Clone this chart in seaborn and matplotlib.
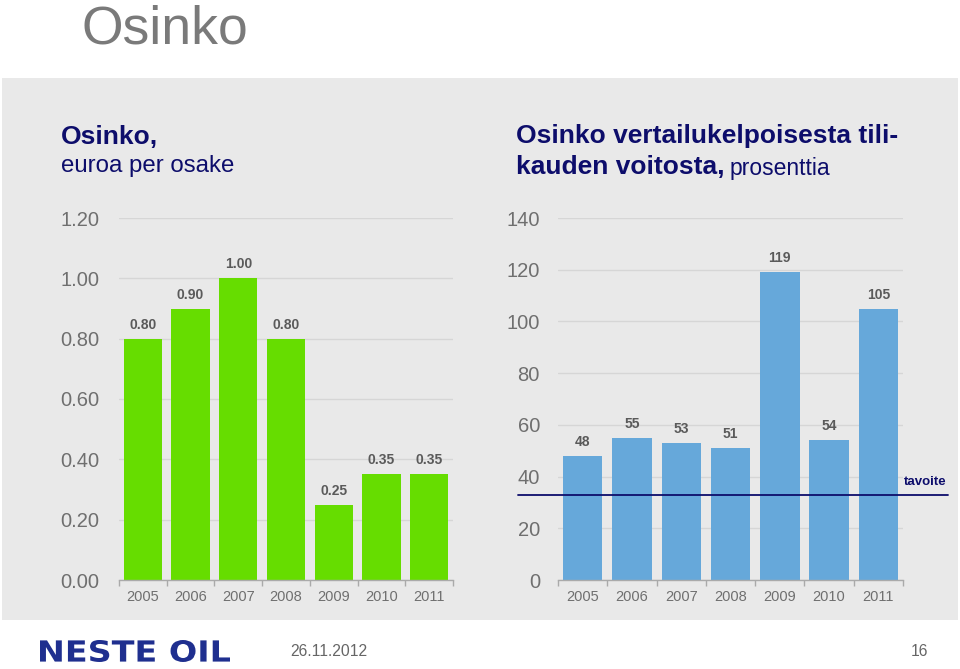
import matplotlib
matplotlib.use("Agg")
import matplotlib.pyplot as plt
import matplotlib.transforms as mtransforms
from matplotlib.patches import Rectangle, PathPatch
from matplotlib.textpath import TextPath
from matplotlib.font_manager import FontProperties
from matplotlib.ticker import FixedLocator, FormatStrFormatter
import seaborn as sns
import pandas as pd

years = ["2005", "2006", "2007", "2008", "2009", "2010", "2011"]
dividend = [0.80, 0.90, 1.00, 0.80, 0.25, 0.35, 0.35]
payout = [48, 55, 53, 51, 119, 54, 105]
target = 33
left_ticks = [0.0, 0.2, 0.4, 0.6, 0.8, 1.0, 1.2]
right_ticks = [0, 20, 40, 60, 80, 100, 120, 140]

sns.set_theme(style="white")
plt.rcParams['font.family'] = ['Liberation Sans', 'DejaVu Sans']

GREEN = "#66dd00"
BLUE = "#66a8da"
NAVY = "#0d0d6b"
GRAY = "#6f6f6f"
LBL = "#5a5a5a"
GRID = "#d6d6d6"

fig = plt.figure(figsize=(9.6, 6.69), dpi=100)
fig.patch.set_facecolor("white")
W, H = 960, 669

def fx(px): return px / W
def fy(py): return 1 - py / H

# background panel
fig.patches.append(Rectangle((fx(2), fy(620)), fx(956), (620 - 78) / H,
                             transform=fig.transFigure, facecolor="#e9e9e9",
                             edgecolor="none", zorder=-5))

fig.text(fx(82), fy(43), "Osinko", fontsize=38.5, color="#7a7a7a", va="baseline", ha="left")

df_l = pd.DataFrame({"year": years, "value": dividend})
df_r = pd.DataFrame({"year": years, "value": payout})

axL = fig.add_axes([fx(119), fy(580), fx(453 - 119), (580 - 218) / H])
axR = fig.add_axes([fx(558), fy(580), fx(903 - 558), (580 - 218) / H])

def style(ax, ticks, fmt, pad):
    ax.set_facecolor("none")
    ax.patch.set_alpha(0)
    ax.set_xlim(-0.5, 6.5)
    ax.set_ylim(ticks[0], ticks[-1])
    ax.set_yticks(ticks)
    ax.yaxis.set_major_formatter(FormatStrFormatter(fmt))
    ax.grid(axis="y", color=GRID, linewidth=1)
    ax.set_axisbelow(True)
    for s in ["top", "right", "left"]:
        ax.spines[s].set_visible(False)
    ax.spines["bottom"].set_color("#aaaaaa")
    ax.spines["bottom"].set_linewidth(1)
    ax.tick_params(axis="y", length=0, labelsize=14.5, labelcolor=GRAY, pad=pad)
    ax.tick_params(axis="x", which="major", length=0, labelsize=10.5, labelcolor=GRAY, pad=7)
    ax.xaxis.set_minor_locator(FixedLocator([i - 0.5 for i in range(8)]))
    ax.tick_params(axis="x", which="minor", bottom=True, length=4, color="#aaaaaa", width=1)
    ax.set_xlabel("")
    ax.set_ylabel("")

sns.barplot(data=df_l, x="year", y="value", color=GREEN, saturation=1, width=0.8,
            linewidth=0, ax=axL)
style(axL, left_ticks, "%.2f", 14)
axL.bar_label(axL.containers[0], labels=[f"{v:.2f}" for v in dividend], padding=5,
              fontsize=10, fontweight="bold", color=LBL)

sns.barplot(data=df_r, x="year", y="value", color=BLUE, saturation=1, width=0.8,
            linewidth=0, ax=axR)
style(axR, right_ticks, "%d", 13)
axR.bar_label(axR.containers[0], labels=[f"{v}" for v in payout], padding=5,
              fontsize=10, fontweight="bold", color=LBL)

# target line
trans = mtransforms.blended_transform_factory(axR.transAxes, axR.transData)
axR.plot([(518 - 558) / 345, (948 - 558) / 345], [target, target], transform=trans,
         color=NAVY, linewidth=1.3, clip_on=False, zorder=5)
axR.text((946 - 558) / 345, target + 2.5, "tavoite", transform=trans, ha="right", va="bottom",
         fontsize=9.5, fontweight="bold", color=NAVY, clip_on=False)

# titles
fig.text(fx(61), fy(137), "Osinko,", fontsize=19, fontweight="bold", color=NAVY, va="center")
fig.text(fx(61), fy(166), "euroa per osake", fontsize=17.3, color=NAVY, va="center")
fig.text(fx(516), fy(136), "Osinko vertailukelpoisesta tili-", fontsize=19, fontweight="bold",
         color=NAVY, va="center")
t = fig.text(fx(516), fy(167), "kauden voitosta,", fontsize=19, fontweight="bold",
             color=NAVY, va="center")
r = fig.canvas.get_renderer()
bb = t.get_window_extent(renderer=r)
fig.text((bb.x1 + 5) / W, fy(168), "prosenttia", fontsize=16.5, color=NAVY, va="center")

# footer logo (text scaled into its box)
tp = TextPath((0, 0), "NESTE OIL", size=20, prop=FontProperties(family="DejaVu Sans", weight="bold"))
ext = tp.get_extents()
x0, x1, ytop, ybot = 40, 230, 640, 662
sx = (x1 - x0) / ext.width
sy = (ybot - ytop) / ext.height
tr = (mtransforms.Affine2D().translate(-ext.x0, -ext.y0).scale(sx, sy)
      .translate(x0, H - ybot))
fig.patches.append(PathPatch(tr.transform_path(tp), facecolor="#1f2f8f", edgecolor="none",
                             transform=mtransforms.IdentityTransform()))
fig.text(fx(290), fy(651), "26.11.2012", fontsize=11.3, color="#666666", va="center")
fig.text(fx(928), fy(651), "16", fontsize=11.3, color="#666666", va="center", ha="right")

fig.savefig("out.png", dpi=100)
